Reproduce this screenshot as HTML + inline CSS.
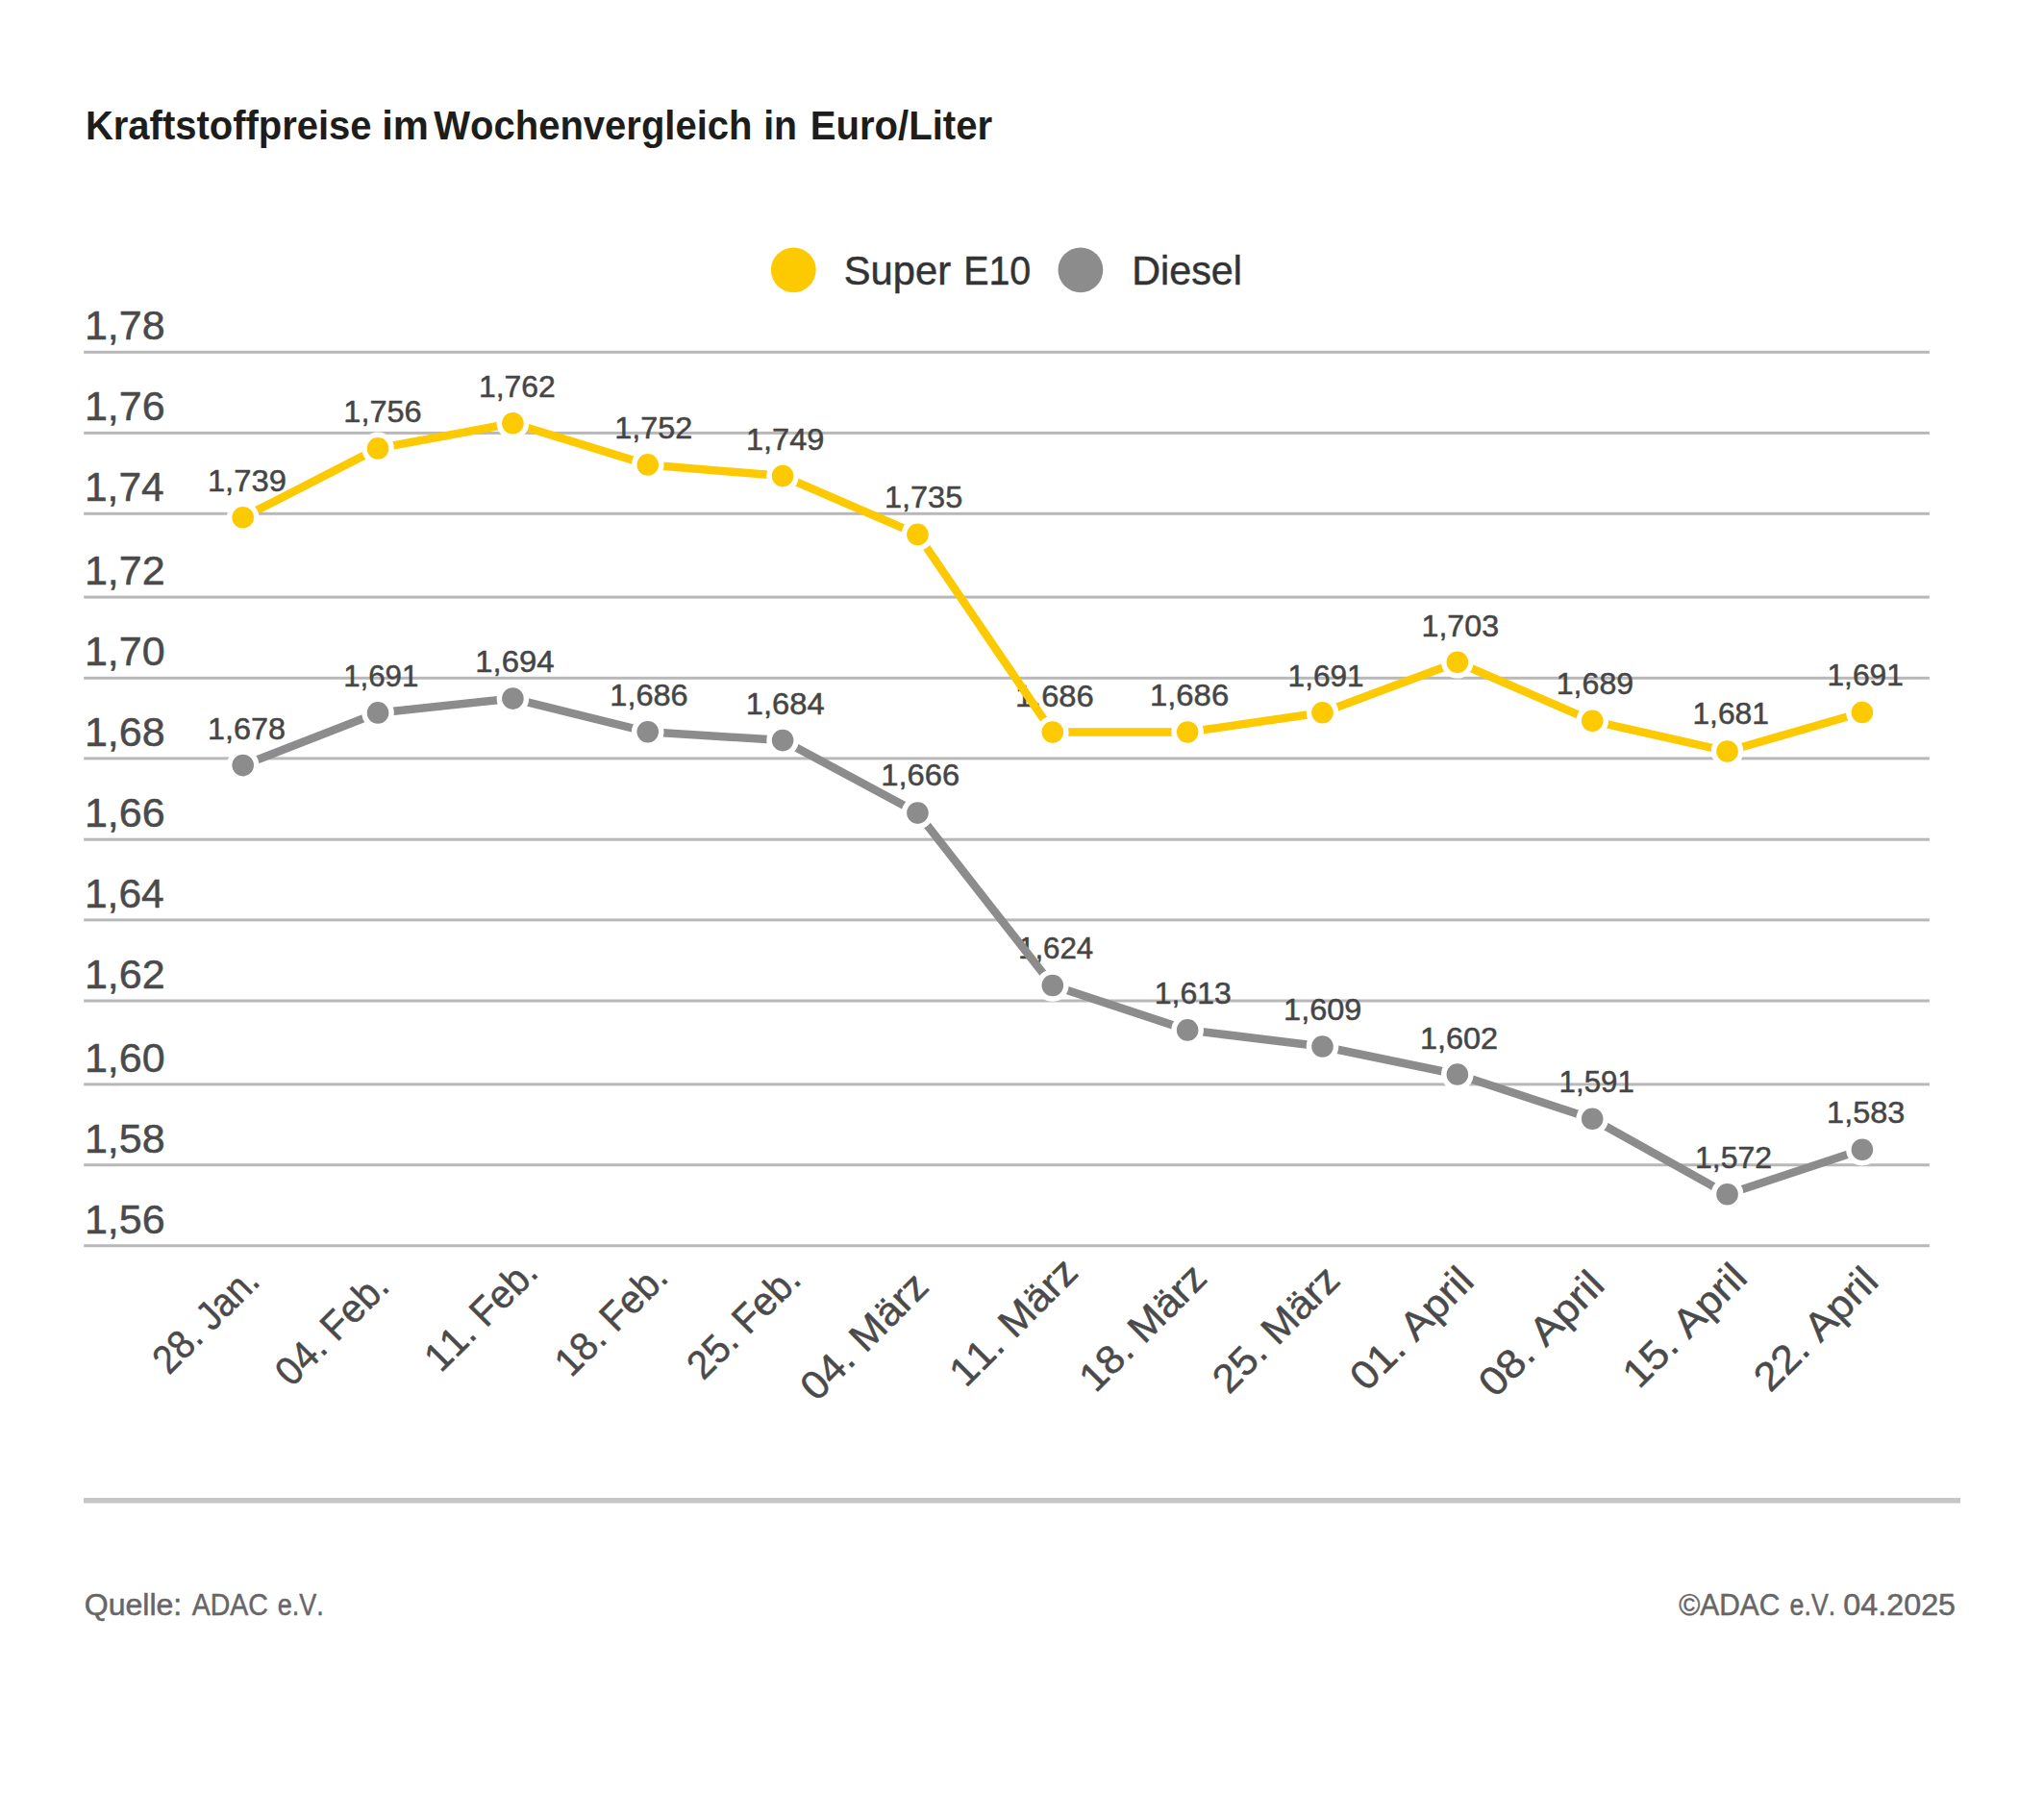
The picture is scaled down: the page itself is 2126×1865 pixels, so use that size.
<!DOCTYPE html>
<html><head><meta charset="utf-8"><style>
html,body{margin:0;padding:0;background:#fff;overflow:hidden;}
svg{display:block;}
text{font-family:"Liberation Sans",sans-serif;stroke-linejoin:round;font-kerning:none;}
</style></head><body>
<svg width="2126" height="1865" viewBox="0 0 2126 1865">
<rect width="2126" height="1865" fill="#fff"/>
<text x="88.94" y="144.60" font-size="42.5" font-weight="bold" fill="#1d1d1b" textLength="297.65" lengthAdjust="spacingAndGlyphs">Kraftstoffpreise</text>
<text x="397.24" y="144.60" font-size="42.5" font-weight="bold" fill="#1d1d1b" textLength="48.73" lengthAdjust="spacingAndGlyphs">im</text>
<text x="451.29" y="144.60" font-size="42.5" font-weight="bold" fill="#1d1d1b" textLength="331.19" lengthAdjust="spacingAndGlyphs">Wochenvergleich</text>
<text x="794.15" y="144.60" font-size="42.5" font-weight="bold" fill="#1d1d1b" textLength="34.90" lengthAdjust="spacingAndGlyphs">in</text>
<text x="842.70" y="144.60" font-size="42.5" font-weight="bold" fill="#1d1d1b" textLength="189.42" lengthAdjust="spacingAndGlyphs">Euro/Liter</text>
<circle cx="825.3" cy="280.8" r="23.4" fill="#fdc900"/>
<text x="877.76" y="296.00" font-size="43" font-weight="normal" fill="#333" stroke="#333" stroke-width="0.5" textLength="111.30" lengthAdjust="spacingAndGlyphs">Super</text>
<text x="1002.17" y="296.00" font-size="43" font-weight="normal" fill="#333" stroke="#333" stroke-width="0.5" textLength="70.11" lengthAdjust="spacingAndGlyphs">E10</text>
<circle cx="1123.9" cy="280.8" r="23.4" fill="#8c8c8c"/>
<text x="1177.19" y="296.00" font-size="43" font-weight="normal" fill="#333" stroke="#333" stroke-width="0.5" textLength="114.72" lengthAdjust="spacingAndGlyphs">Diesel</text>
<rect x="87.2" y="364.80" width="1919.7" height="3" fill="#b8b8b8"/>
<rect x="87.2" y="448.90" width="1919.7" height="3" fill="#b8b8b8"/>
<rect x="87.2" y="532.80" width="1919.7" height="3" fill="#b8b8b8"/>
<rect x="87.2" y="619.60" width="1919.7" height="3" fill="#b8b8b8"/>
<rect x="87.2" y="703.80" width="1919.7" height="3" fill="#b8b8b8"/>
<rect x="87.2" y="787.40" width="1919.7" height="3" fill="#b8b8b8"/>
<rect x="87.2" y="871.70" width="1919.7" height="3" fill="#b8b8b8"/>
<rect x="87.2" y="955.40" width="1919.7" height="3" fill="#b8b8b8"/>
<rect x="87.2" y="1039.50" width="1919.7" height="3" fill="#b8b8b8"/>
<rect x="87.2" y="1126.40" width="1919.7" height="3" fill="#b8b8b8"/>
<rect x="87.2" y="1210.25" width="1919.7" height="3" fill="#b8b8b8"/>
<rect x="87.2" y="1294.25" width="1919.7" height="3" fill="#b8b8b8"/>
<text x="87.94" y="353.10" font-size="42" font-weight="normal" fill="#4a4a4a" stroke="#4a4a4a" stroke-width="0.5" textLength="83.74" lengthAdjust="spacingAndGlyphs">1,78</text>
<text x="87.94" y="437.20" font-size="42" font-weight="normal" fill="#4a4a4a" stroke="#4a4a4a" stroke-width="0.5" textLength="83.74" lengthAdjust="spacingAndGlyphs">1,76</text>
<text x="87.97" y="521.10" font-size="42" font-weight="normal" fill="#4a4a4a" stroke="#4a4a4a" stroke-width="0.5" textLength="82.68" lengthAdjust="spacingAndGlyphs">1,74</text>
<text x="87.94" y="607.90" font-size="42" font-weight="normal" fill="#4a4a4a" stroke="#4a4a4a" stroke-width="0.5" textLength="83.74" lengthAdjust="spacingAndGlyphs">1,72</text>
<text x="87.94" y="692.10" font-size="42" font-weight="normal" fill="#4a4a4a" stroke="#4a4a4a" stroke-width="0.5" textLength="83.74" lengthAdjust="spacingAndGlyphs">1,70</text>
<text x="87.94" y="775.70" font-size="42" font-weight="normal" fill="#4a4a4a" stroke="#4a4a4a" stroke-width="0.5" textLength="83.74" lengthAdjust="spacingAndGlyphs">1,68</text>
<text x="87.94" y="860.00" font-size="42" font-weight="normal" fill="#4a4a4a" stroke="#4a4a4a" stroke-width="0.5" textLength="83.74" lengthAdjust="spacingAndGlyphs">1,66</text>
<text x="87.97" y="943.70" font-size="42" font-weight="normal" fill="#4a4a4a" stroke="#4a4a4a" stroke-width="0.5" textLength="82.68" lengthAdjust="spacingAndGlyphs">1,64</text>
<text x="87.94" y="1027.80" font-size="42" font-weight="normal" fill="#4a4a4a" stroke="#4a4a4a" stroke-width="0.5" textLength="83.74" lengthAdjust="spacingAndGlyphs">1,62</text>
<text x="87.94" y="1114.70" font-size="42" font-weight="normal" fill="#4a4a4a" stroke="#4a4a4a" stroke-width="0.5" textLength="83.74" lengthAdjust="spacingAndGlyphs">1,60</text>
<text x="87.94" y="1198.55" font-size="42" font-weight="normal" fill="#4a4a4a" stroke="#4a4a4a" stroke-width="0.5" textLength="83.74" lengthAdjust="spacingAndGlyphs">1,58</text>
<text x="87.94" y="1282.55" font-size="42" font-weight="normal" fill="#4a4a4a" stroke="#4a4a4a" stroke-width="0.5" textLength="83.74" lengthAdjust="spacingAndGlyphs">1,56</text>
<text x="215.92" y="511.00" font-size="31.5" fill="#454545" stroke="#454545" stroke-width="0.5" textLength="81.94" lengthAdjust="spacingAndGlyphs">1,739</text>
<text x="357.33" y="438.80" font-size="31.5" fill="#454545" stroke="#454545" stroke-width="0.5" textLength="81.32" lengthAdjust="spacingAndGlyphs">1,756</text>
<text x="497.98" y="412.60" font-size="31.5" fill="#454545" stroke="#454545" stroke-width="0.5" textLength="79.76" lengthAdjust="spacingAndGlyphs">1,762</text>
<text x="639.15" y="455.80" font-size="31.5" fill="#454545" stroke="#454545" stroke-width="0.5" textLength="81.01" lengthAdjust="spacingAndGlyphs">1,752</text>
<text x="775.92" y="467.60" font-size="31.5" fill="#454545" stroke="#454545" stroke-width="0.5" textLength="81.46" lengthAdjust="spacingAndGlyphs">1,749</text>
<text x="919.94" y="528.00" font-size="31.5" fill="#454545" stroke="#454545" stroke-width="0.5" textLength="81.32" lengthAdjust="spacingAndGlyphs">1,735</text>
<text x="1055.93" y="734.70" font-size="31.5" fill="#454545" stroke="#454545" stroke-width="0.5" textLength="81.73" lengthAdjust="spacingAndGlyphs">1,686</text>
<text x="1195.91" y="734.40" font-size="31.5" fill="#454545" stroke="#454545" stroke-width="0.5" textLength="82.25" lengthAdjust="spacingAndGlyphs">1,686</text>
<text x="1339.59" y="714.00" font-size="31.5" fill="#454545" stroke="#454545" stroke-width="0.5" textLength="79.04" lengthAdjust="spacingAndGlyphs">1,691</text>
<text x="1478.55" y="662.00" font-size="31.5" fill="#454545" stroke="#454545" stroke-width="0.5" textLength="80.49" lengthAdjust="spacingAndGlyphs">1,703</text>
<text x="1618.76" y="721.60" font-size="31.5" fill="#454545" stroke="#454545" stroke-width="0.5" textLength="80.38" lengthAdjust="spacingAndGlyphs">1,689</text>
<text x="1760.38" y="753.30" font-size="31.5" fill="#454545" stroke="#454545" stroke-width="0.5" textLength="79.56" lengthAdjust="spacingAndGlyphs">1,681</text>
<text x="1900.38" y="712.80" font-size="31.5" fill="#454545" stroke="#454545" stroke-width="0.5" textLength="79.56" lengthAdjust="spacingAndGlyphs">1,691</text>
<text x="215.94" y="768.80" font-size="31.5" fill="#454545" stroke="#454545" stroke-width="0.5" textLength="81.01" lengthAdjust="spacingAndGlyphs">1,678</text>
<text x="357.22" y="714.10" font-size="31.5" fill="#454545" stroke="#454545" stroke-width="0.5" textLength="78.00" lengthAdjust="spacingAndGlyphs">1,691</text>
<text x="494.30" y="699.10" font-size="31.5" fill="#454545" stroke="#454545" stroke-width="0.5" textLength="82.25" lengthAdjust="spacingAndGlyphs">1,694</text>
<text x="634.33" y="734.30" font-size="31.5" fill="#454545" stroke="#454545" stroke-width="0.5" textLength="81.32" lengthAdjust="spacingAndGlyphs">1,686</text>
<text x="775.72" y="742.90" font-size="31.5" fill="#454545" stroke="#454545" stroke-width="0.5" textLength="81.94" lengthAdjust="spacingAndGlyphs">1,684</text>
<text x="916.33" y="817.20" font-size="31.5" fill="#454545" stroke="#454545" stroke-width="0.5" textLength="81.73" lengthAdjust="spacingAndGlyphs">1,666</text>
<text x="1059.02" y="997.20" font-size="31.5" fill="#454545" stroke="#454545" stroke-width="0.5" textLength="78.21" lengthAdjust="spacingAndGlyphs">1,624</text>
<text x="1200.77" y="1044.10" font-size="31.5" fill="#454545" stroke="#454545" stroke-width="0.5" textLength="80.07" lengthAdjust="spacingAndGlyphs">1,613</text>
<text x="1335.13" y="1060.70" font-size="31.5" fill="#454545" stroke="#454545" stroke-width="0.5" textLength="81.21" lengthAdjust="spacingAndGlyphs">1,609</text>
<text x="1476.92" y="1090.50" font-size="31.5" fill="#454545" stroke="#454545" stroke-width="0.5" textLength="81.25" lengthAdjust="spacingAndGlyphs">1,602</text>
<text x="1621.61" y="1136.40" font-size="31.5" fill="#454545" stroke="#454545" stroke-width="0.5" textLength="78.21" lengthAdjust="spacingAndGlyphs">1,591</text>
<text x="1762.97" y="1214.90" font-size="31.5" fill="#454545" stroke="#454545" stroke-width="0.5" textLength="80.07" lengthAdjust="spacingAndGlyphs">1,572</text>
<text x="1900.13" y="1168.20" font-size="31.5" fill="#454545" stroke="#454545" stroke-width="0.5" textLength="81.21" lengthAdjust="spacingAndGlyphs">1,583</text>
<polyline points="252.70,538.30 393.05,466.40 533.40,440.20 673.75,483.40 814.10,495.10 954.45,555.90 1094.80,761.60 1235.15,761.50 1375.50,741.30 1515.85,688.80 1656.20,749.80 1796.55,781.50 1936.90,741.00" fill="none" stroke="#fdc900" stroke-width="8.5" stroke-linejoin="round"/>
<polyline points="252.70,796.10 393.05,741.40 533.40,726.60 673.75,761.30 814.10,770.10 954.45,845.60 1094.80,1025.00 1235.15,1071.40 1375.50,1088.50 1515.85,1117.50 1656.20,1163.80 1796.55,1242.20 1936.90,1195.70" fill="none" stroke="#8c8c8c" stroke-width="8.5" stroke-linejoin="round"/>
<circle cx="252.70" cy="538.30" r="14.05" fill="#fdc900" stroke="#fff" stroke-width="5.5"/>
<circle cx="393.05" cy="466.40" r="14.05" fill="#fdc900" stroke="#fff" stroke-width="5.5"/>
<circle cx="533.40" cy="440.20" r="14.05" fill="#fdc900" stroke="#fff" stroke-width="5.5"/>
<circle cx="673.75" cy="483.40" r="14.05" fill="#fdc900" stroke="#fff" stroke-width="5.5"/>
<circle cx="814.10" cy="495.10" r="14.05" fill="#fdc900" stroke="#fff" stroke-width="5.5"/>
<circle cx="954.45" cy="555.90" r="14.05" fill="#fdc900" stroke="#fff" stroke-width="5.5"/>
<circle cx="1094.80" cy="761.60" r="14.05" fill="#fdc900" stroke="#fff" stroke-width="5.5"/>
<circle cx="1235.15" cy="761.50" r="14.05" fill="#fdc900" stroke="#fff" stroke-width="5.5"/>
<circle cx="1375.50" cy="741.30" r="14.05" fill="#fdc900" stroke="#fff" stroke-width="5.5"/>
<circle cx="1515.85" cy="688.80" r="14.05" fill="#fdc900" stroke="#fff" stroke-width="5.5"/>
<circle cx="1656.20" cy="749.80" r="14.05" fill="#fdc900" stroke="#fff" stroke-width="5.5"/>
<circle cx="1796.55" cy="781.50" r="14.05" fill="#fdc900" stroke="#fff" stroke-width="5.5"/>
<circle cx="1936.90" cy="741.00" r="14.05" fill="#fdc900" stroke="#fff" stroke-width="5.5"/>
<circle cx="252.70" cy="796.10" r="14.05" fill="#8c8c8c" stroke="#fff" stroke-width="5.5"/>
<circle cx="393.05" cy="741.40" r="14.05" fill="#8c8c8c" stroke="#fff" stroke-width="5.5"/>
<circle cx="533.40" cy="726.60" r="14.05" fill="#8c8c8c" stroke="#fff" stroke-width="5.5"/>
<circle cx="673.75" cy="761.30" r="14.05" fill="#8c8c8c" stroke="#fff" stroke-width="5.5"/>
<circle cx="814.10" cy="770.10" r="14.05" fill="#8c8c8c" stroke="#fff" stroke-width="5.5"/>
<circle cx="954.45" cy="845.60" r="14.05" fill="#8c8c8c" stroke="#fff" stroke-width="5.5"/>
<circle cx="1094.80" cy="1025.00" r="14.05" fill="#8c8c8c" stroke="#fff" stroke-width="5.5"/>
<circle cx="1235.15" cy="1071.40" r="14.05" fill="#8c8c8c" stroke="#fff" stroke-width="5.5"/>
<circle cx="1375.50" cy="1088.50" r="14.05" fill="#8c8c8c" stroke="#fff" stroke-width="5.5"/>
<circle cx="1515.85" cy="1117.50" r="14.05" fill="#8c8c8c" stroke="#fff" stroke-width="5.5"/>
<circle cx="1656.20" cy="1163.80" r="14.05" fill="#8c8c8c" stroke="#fff" stroke-width="5.5"/>
<circle cx="1796.55" cy="1242.20" r="14.05" fill="#8c8c8c" stroke="#fff" stroke-width="5.5"/>
<circle cx="1936.90" cy="1195.70" r="14.05" fill="#8c8c8c" stroke="#fff" stroke-width="5.5"/>
<text x="175.67" y="1431.03" font-size="41.5" fill="#4a4a4a" stroke="#4a4a4a" stroke-width="0.5" textLength="136.26" lengthAdjust="spacingAndGlyphs" transform="rotate(-45 175.67 1431.03)">28. Jan.</text>
<text x="303.37" y="1443.68" font-size="41.5" fill="#4a4a4a" stroke="#4a4a4a" stroke-width="0.5" textLength="146.20" lengthAdjust="spacingAndGlyphs" transform="rotate(-45 303.37 1443.68)">04. Feb.</text>
<text x="458.55" y="1428.85" font-size="41.5" fill="#4a4a4a" stroke="#4a4a4a" stroke-width="0.5" textLength="145.74" lengthAdjust="spacingAndGlyphs" transform="rotate(-45 458.55 1428.85)">11. Feb.</text>
<text x="594.04" y="1433.71" font-size="41.5" fill="#4a4a4a" stroke="#4a4a4a" stroke-width="0.5" textLength="145.28" lengthAdjust="spacingAndGlyphs" transform="rotate(-45 594.04 1433.71)">18. Feb.</text>
<text x="731.44" y="1436.66" font-size="41.5" fill="#4a4a4a" stroke="#4a4a4a" stroke-width="0.5" textLength="146.42" lengthAdjust="spacingAndGlyphs" transform="rotate(-45 731.44 1436.66)">25. Feb.</text>
<text x="849.53" y="1458.92" font-size="41.5" fill="#4a4a4a" stroke="#4a4a4a" stroke-width="0.5" textLength="167.48" lengthAdjust="spacingAndGlyphs" transform="rotate(-45 849.53 1458.92)">04. März</text>
<text x="1004.44" y="1444.36" font-size="41.5" fill="#4a4a4a" stroke="#4a4a4a" stroke-width="0.5" textLength="168.01" lengthAdjust="spacingAndGlyphs" transform="rotate(-45 1004.44 1444.36)">11. März</text>
<text x="1139.50" y="1449.65" font-size="41.5" fill="#4a4a4a" stroke="#4a4a4a" stroke-width="0.5" textLength="166.95" lengthAdjust="spacingAndGlyphs" transform="rotate(-45 1139.50 1449.65)">18. März</text>
<text x="1278.30" y="1451.20" font-size="41.5" fill="#4a4a4a" stroke="#4a4a4a" stroke-width="0.5" textLength="166.42" lengthAdjust="spacingAndGlyphs" transform="rotate(-45 1278.30 1451.20)">25. März</text>
<text x="1421.31" y="1448.54" font-size="41.5" fill="#4a4a4a" stroke="#4a4a4a" stroke-width="0.5" textLength="160.93" lengthAdjust="spacingAndGlyphs" transform="rotate(-45 1421.31 1448.54)">01. April</text>
<text x="1555.13" y="1455.07" font-size="41.5" fill="#4a4a4a" stroke="#4a4a4a" stroke-width="0.5" textLength="164.06" lengthAdjust="spacingAndGlyphs" transform="rotate(-45 1555.13 1455.07)">08. April</text>
<text x="1704.72" y="1445.83" font-size="41.5" fill="#4a4a4a" stroke="#4a4a4a" stroke-width="0.5" textLength="162.14" lengthAdjust="spacingAndGlyphs" transform="rotate(-45 1704.72 1445.83)">15. April</text>
<text x="1841.35" y="1449.55" font-size="41.5" fill="#4a4a4a" stroke="#4a4a4a" stroke-width="0.5" textLength="161.92" lengthAdjust="spacingAndGlyphs" transform="rotate(-45 1841.35 1449.55)">22. April</text>
<rect x="87" y="1558" width="1952" height="5.5" fill="#c6c6c6"/>
<text x="87.78" y="1679.70" font-size="31" font-weight="normal" fill="#666" stroke="#666" stroke-width="0.5" textLength="101.51" lengthAdjust="spacingAndGlyphs">Quelle:</text>
<text x="199.70" y="1679.70" font-size="31" font-weight="normal" fill="#666" stroke="#666" stroke-width="0.5" textLength="79.06" lengthAdjust="spacingAndGlyphs">ADAC</text>
<text x="288.70" y="1679.70" font-size="31" font-weight="normal" fill="#666" stroke="#666" stroke-width="0.5" textLength="47.96" lengthAdjust="spacingAndGlyphs">e.V.</text>
<text x="1746.19" y="1679.60" font-size="31" font-weight="normal" fill="#666" stroke="#666" stroke-width="0.5" textLength="105.19" lengthAdjust="spacingAndGlyphs">©ADAC</text>
<text x="1861.57" y="1679.60" font-size="31" font-weight="normal" fill="#666" stroke="#666" stroke-width="0.5" textLength="47.66" lengthAdjust="spacingAndGlyphs">e.V.</text>
<text x="1917.39" y="1679.60" font-size="31" font-weight="normal" fill="#666" stroke="#666" stroke-width="0.5" textLength="116.71" lengthAdjust="spacingAndGlyphs">04.2025</text>
</svg></body></html>
